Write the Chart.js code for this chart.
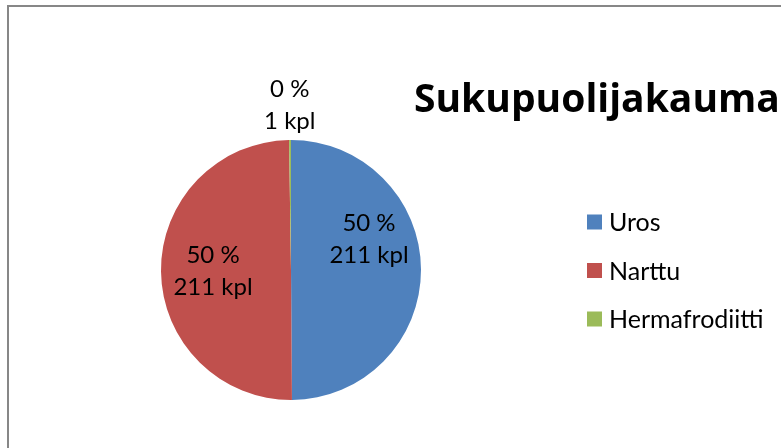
<!DOCTYPE html>
<html lang="fi">
  <head>
    <meta charset="utf-8" />
    <title>Sukupuolijakauma</title>
    <style>
      * {
        margin: 0;
        padding: 0;
      }
      body {
        width: 781px;
        height: 448px;
        overflow: hidden;
        background: #fff;
        position: relative;
      }
      .frame {
        position: absolute;
        left: 7px;
        top: 5px;
        width: 900px;
        height: 600px;
        border: 2px solid #878787;
      }
      #myChart {
        position: absolute;
        left: 0;
        top: 0;
      }
    </style>
  </head>
  <body>
    <div class="frame"></div>
    <canvas id="myChart" width="781" height="448"></canvas>
    <script src="https://cdn.jsdelivr.net/npm/chart.js"></script>
    <script>
      // data
      const categories = ["Uros", "Narttu", "Hermafrodiitti"];
      const counts = [211, 211, 1];
      const colors = ["#4F81BD", "#C0504D", "#9BBB59"];
      const chartTitle = "Sukupuolijakauma";

      const FONT = "Lato, 'Open Sans', sans-serif";
      const total = counts.reduce((a, b) => a + b, 0);

      // slice labels: "50 %" / "211 kpl"
      const sliceLabels = {
        id: "sliceLabels",
        afterDatasetsDraw(chart) {
          const { ctx } = chart;
          const arcs = chart.getDatasetMeta(0).data;
          ctx.save();
          ctx.font = "24px " + FONT;
          ctx.fillStyle = "#000";
          ctx.textAlign = "center";
          ctx.textBaseline = "middle";
          arcs.forEach((arc, i) => {
            const { x, y, startAngle, endAngle, outerRadius } = arc.getProps(
              ["x", "y", "startAngle", "endAngle", "outerRadius"],
              true
            );
            const mid = (startAngle + endAngle) / 2;
            const small = endAngle - startAngle < 0.3;
            const r = small ? outerRadius + 35 : outerRadius * 0.6;
            let lx = x + Math.cos(mid) * r;
            let ly = y + Math.sin(mid) * r;
            if (i === 0) ly -= 30;
            const pct = Math.round((counts[i] / total) * 100) + " %";
            ctx.fillText(pct, lx, ly - 16);
            ctx.fillText(counts[i] + " kpl", lx, ly + 16);
          });
          ctx.restore();
        },
      };

      // title + legend on the right, Excel style
      const sideText = {
        id: "sideText",
        afterDraw(chart) {
          const { ctx } = chart;
          ctx.save();
          ctx.fillStyle = "#000";
          ctx.textBaseline = "alphabetic";
          ctx.textAlign = "left";
          ctx.font = "bold 39px 'Open Sans', sans-serif";
          ctx.fillText(chartTitle, 414, 112);

          ctx.font = "25px " + FONT;
          ctx.textBaseline = "middle";
          categories.forEach((c, i) => {
            const cy = 222 + i * 48.5;
            ctx.fillStyle = colors[i];
            ctx.fillRect(587, cy - 7.5, 15, 15);
            ctx.fillStyle = "#000";
            ctx.fillText(c, 609, cy + 1);
          });
          ctx.restore();
        },
      };

      const config = {
        type: "pie",
        data: {
          labels: categories,
          datasets: [
            {
              data: counts,
              backgroundColor: colors,
              borderWidth: 0,
            },
          ],
        },
        options: {
          responsive: false,
          animation: false,
          layout: {
            padding: { left: 161, right: 360, top: 140, bottom: 48 },
          },
          plugins: {
            legend: { display: false },
            title: { display: false },
            tooltip: { enabled: false },
          },
        },
        plugins: [sliceLabels, sideText],
      };

      const myChart = new Chart(document.getElementById("myChart"), config);
    </script>
  </body>
</html>
